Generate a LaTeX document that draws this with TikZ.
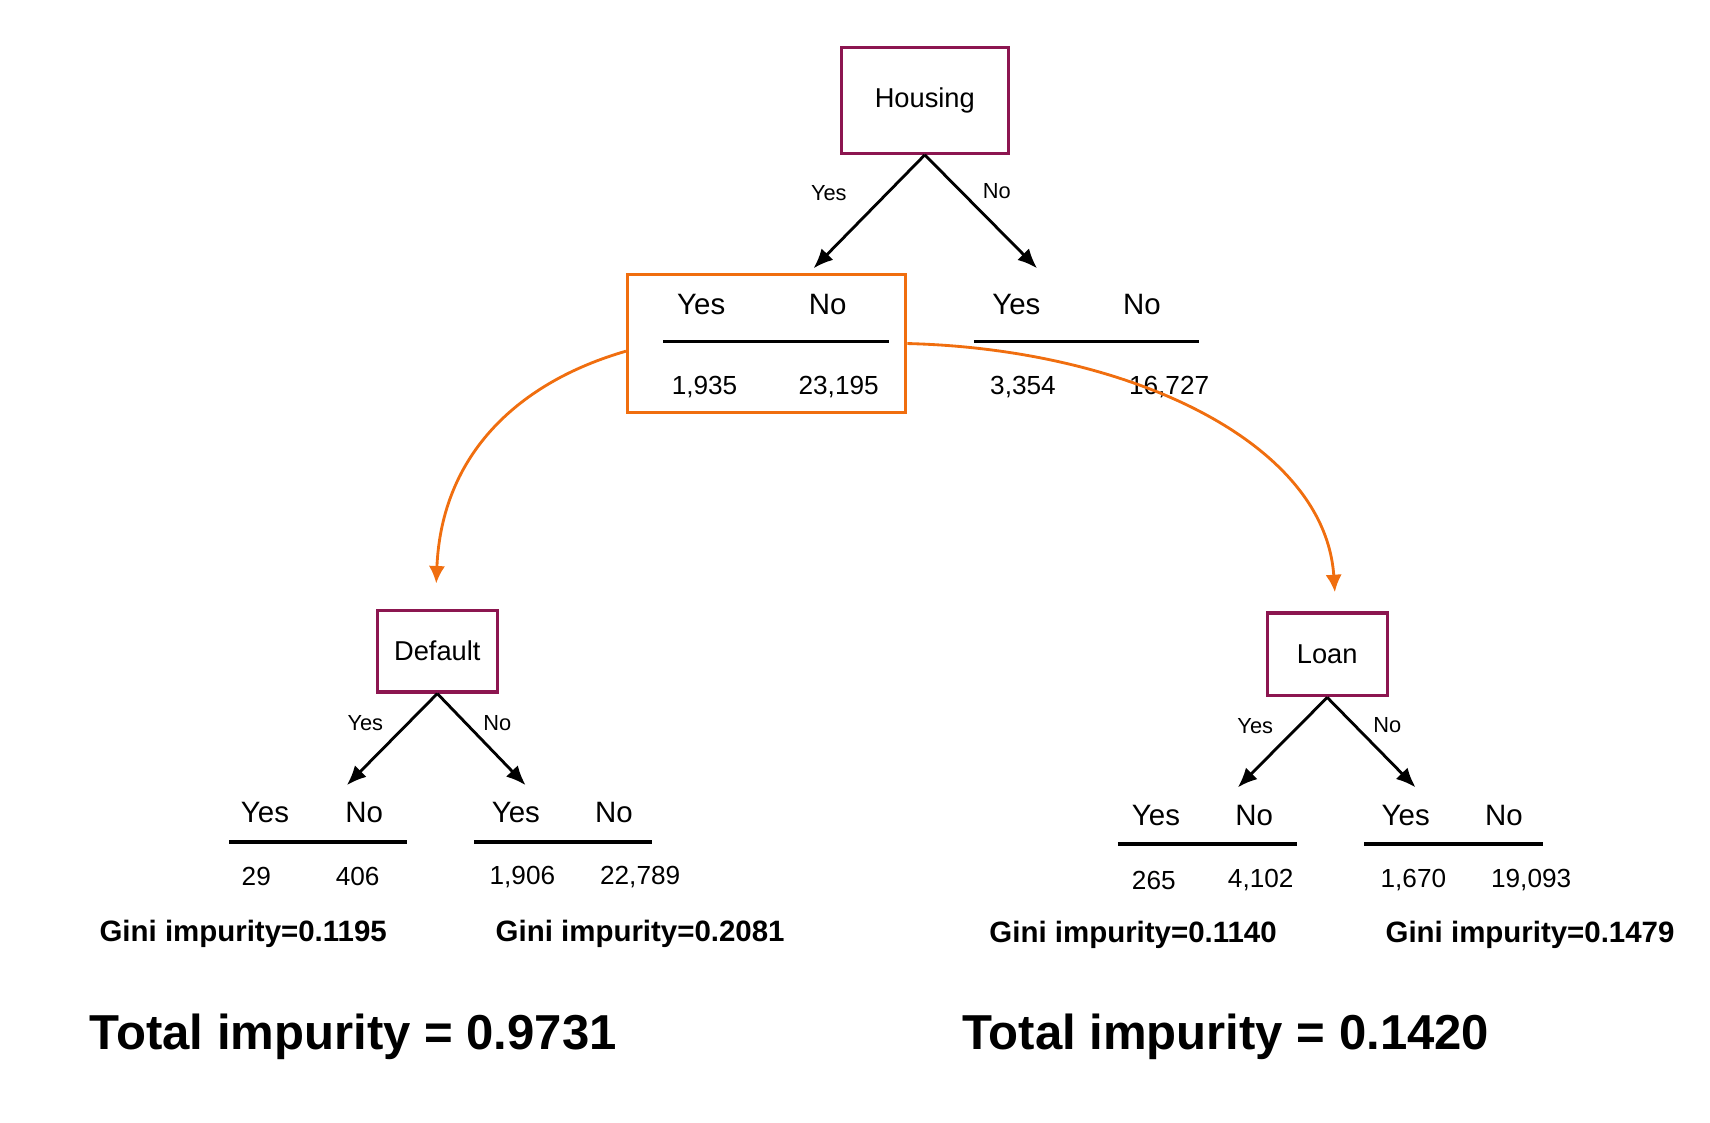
\documentclass[tikz,border=0pt]{standalone}
\usepackage{fontspec}
\setmainfont{Liberation Sans}
\usetikzlibrary{positioning,arrows.meta}
\definecolor{plum}{RGB}{140,22,80}
\definecolor{orng}{RGB}{240,110,15}

\begin{document}
\begin{tikzpicture}[x=1pt,y=-1pt,
    attr/.style={draw=plum,line width=3pt,font=\fontsize{25}{30}\selectfont},
    head/.style={font=\fontsize{27}{32}\selectfont},
    num/.style={font=\fontsize{24}{29}\selectfont},
    lbl/.style={font=\fontsize{20}{24}\selectfont},
    gini/.style={font=\bfseries\fontsize{27}{32}\selectfont},
    total/.style={font=\bfseries\fontsize{45}{54}\selectfont},
    rule/.style={line width=3pt},
    branch/.style={-{Latex[length=18pt,width=15pt]},line width=2.6pt},
    pick/.style={-{Latex[length=16pt,width=15pt]},draw=orng,line width=2.6pt}]
    \useasboundingbox (0,0) rectangle (1568,1029);

    % root split
    \node[attr,minimum width=153pt,minimum height=97pt] (housing) at (848,92) {Housing};
    \coordinate (hy) at (746,246);
    \coordinate (hn) at (951,246);
    \draw[branch] (housing.south) -- (hy);
    \draw[branch] (housing.south) -- (hn);
    \node[lbl] (hylbl) at (760,177) {Yes};
    \node[lbl] (hnlbl) at (914,175) {No};

    \node[draw=orng,line width=3pt,minimum width=255pt,minimum height=127pt] (chosen) at (703,315) {};
    \node[head] (ayes) at (643,279) {Yes};
    \node[head] (ano) at (759,279) {No};
    \draw[rule] (608,313) -- (815,313);
    \node[num] (ay) at (646,355) {1,935};
    \node[num] (an) at (769,355) {23,195};

    \node[head] (byes) at (932,279) {Yes};
    \node[head] (bno) at (1047,279) {No};
    \draw[rule] (893,313) -- (1099,313);
    \node[num] (by) at (938,355) {3,354};
    \node[num] (bn) at (1072,355) {16,727};

    % left subtree
    \node[attr,minimum width=110pt,minimum height=75pt] (default) at (401,597) {Default};
    \coordinate (dy) at (318,720);
    \coordinate (dn) at (482,720);
    \draw[branch] (default.south) -- (dy);
    \draw[branch] (default.south) -- (dn);
    \node[lbl] (dylbl) at (335,663) {Yes};
    \node[lbl] (dnlbl) at (456,663) {No};

    \node[head] (cyes) at (243,745) {Yes};
    \node[head] (cno) at (334,745) {No};
    \draw[rule] (210,772) -- (373,772);
    \node[num] (cy) at (235,804) {29};
    \node[num] (cn) at (328,804) {406};
    \node[gini] (cgini) at (223,856) {Gini impurity=0.1195};

    \node[head] (eyes) at (473,745) {Yes};
    \node[head] (eno) at (563,745) {No};
    \draw[rule] (435,772) -- (598,772);
    \node[num] (ey) at (479,804) {1,906};
    \node[num] (en) at (587,804) {22,789};
    \node[gini] (egini) at (587,856) {Gini impurity=0.2081};

    \node[total] (ltotal) at (324,951) {Total impurity = 0.9731};

    % right subtree
    \node[attr,minimum width=110pt,minimum height=76pt] (loan) at (1217,600) {Loan};
    \coordinate (ly) at (1135,722);
    \coordinate (ln) at (1298,722);
    \draw[branch] (loan.south) -- (ly);
    \draw[branch] (loan.south) -- (ln);
    \node[lbl] (lylbl) at (1151,666) {Yes};
    \node[lbl] (lnlbl) at (1272,665) {No};

    \node[head] (fyes) at (1060,748) {Yes};
    \node[head] (fno) at (1150,748) {No};
    \draw[rule] (1025,774) -- (1189,774);
    \node[num] (fy) at (1058,807) {265};
    \node[num] (fn) at (1156,807) {4,102};
    \node[gini] (fgini) at (1039,857) {Gini impurity=0.1140};

    \node[head] (gyes) at (1289,748) {Yes};
    \node[head] (gno) at (1379,748) {No};
    \draw[rule] (1251,774) -- (1415,774);
    \node[num] (gy) at (1296,807) {1,670};
    \node[num] (gn) at (1404,807) {19,093};
    \node[gini] (ggini) at (1403,857) {Gini impurity=0.1479};

    \node[total] (rtotal) at (1124,951) {Total impurity = 0.1420};

    % orange links
    \coordinate (dtop) at (400,535);
    \coordinate (ltop) at (1224,543);
    \draw[pick] ([yshift=-7pt]chosen.west) .. controls (477,350) and (405,415) .. (dtop);
    \draw[pick] (chosen.east) .. controls (1034,320) and (1215,405) .. (ltop);
\end{tikzpicture}
\end{document}
